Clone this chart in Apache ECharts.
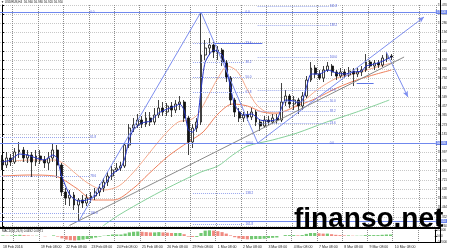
<!DOCTYPE html>
<html><head><meta charset="utf-8">
<script src="https://cdn.jsdelivr.net/npm/echarts@6/dist/echarts.min.js"></script>
<style>html,body{margin:0;padding:0;background:#fff}#c{width:450px;height:250px}</style>
</head><body><div id="c"></div>
<script>
// ---------- data ----------
const symbolTitle = '\u25BC USDRUB,H4  56.960 56.980 56.920 56.950';
const macdTitle = 'MACD(12,26,9) 0.0492 0.0371';
const watermark = 'finanso.net';
const slotCount = 103;
const timeLabels = ['18 Feb 2016','19 Feb 08:00','22 Feb 08:00','23 Feb 08:00','24 Feb 08:00','25 Feb 08:00','26 Feb 08:00','29 Feb 08:00','1 Mar 08:00','2 Mar 08:00','3 Mar 08:00','4 Mar 08:00','7 Mar 08:00','8 Mar 08:00','9 Mar 08:00','10 Mar 08:00'];

const openP = [55.92,55.87,55.94,55.90,56.00,56.02,55.94,55.97,55.90,55.96,
55.92,55.89,55.94,56.02,55.87,55.60,55.54,55.57,55.47,55.52,
55.49,55.54,55.56,55.60,55.64,55.70,55.76,55.82,55.84,55.86,
56.07,56.24,56.27,56.32,56.28,56.34,56.30,56.37,56.44,56.40,
56.46,56.42,56.48,56.50,56.34,56.10,56.24,56.30,56.97,57.04,
57.07,57.00,57.02,56.90,56.74,56.52,56.40,56.34,56.37,56.35,
56.40,56.30,56.26,56.32,56.30,56.34,56.32,56.50,56.56,56.48,
56.52,56.46,56.56,56.72,56.84,56.78,56.74,56.82,56.86,56.80,
56.76,56.80,56.77,56.81,56.78,56.80,56.82,56.90,56.86,56.89,
56.87,56.94,56.96];
const closeP = [55.87,55.94,55.90,56.00,56.02,55.94,55.97,55.90,55.96,55.92,
55.89,55.94,56.02,55.87,55.60,55.54,55.57,55.47,55.52,55.49,
55.54,55.56,55.60,55.64,55.70,55.76,55.82,55.84,55.86,56.07,
56.24,56.27,56.32,56.28,56.34,56.30,56.37,56.44,56.40,56.46,
56.42,56.48,56.50,56.34,56.10,56.24,56.30,56.97,57.04,57.07,
57.00,57.02,56.90,56.74,56.52,56.40,56.34,56.37,56.35,56.40,
56.30,56.26,56.32,56.30,56.34,56.32,56.50,56.56,56.48,56.52,
56.46,56.56,56.72,56.84,56.78,56.74,56.82,56.86,56.80,56.76,
56.80,56.77,56.81,56.78,56.80,56.82,56.90,56.86,56.89,56.87,
56.94,56.96,56.95];
const highP = [55.97,56.00,55.98,56.04,56.10,56.05,56.02,56.00,56.02,56.02,
55.96,56.00,56.09,56.07,55.89,55.64,55.62,55.60,55.54,55.57,
55.58,55.60,55.64,55.68,55.74,55.80,55.86,55.89,55.90,56.09,
56.28,56.34,56.38,56.36,56.40,56.40,56.44,56.52,56.50,56.49,
56.50,56.52,56.56,56.52,56.36,56.28,56.34,57.40,57.12,57.14,
57.10,57.06,57.04,56.92,56.76,56.54,56.44,56.40,56.41,56.44,
56.42,56.32,56.36,56.36,56.38,56.38,56.69,56.62,56.58,56.56,
56.54,56.60,56.76,56.90,56.87,56.82,56.86,56.90,56.88,56.82,
56.84,56.83,56.85,56.84,56.84,56.86,56.98,56.92,56.92,56.92,
56.97,57.00,56.98];
const lowP = [55.82,55.84,55.86,55.88,55.94,55.90,55.89,55.75,55.86,55.88,
55.84,55.82,55.90,55.74,55.56,55.47,55.46,55.42,55.30,55.44,
55.46,55.49,55.52,55.56,55.60,55.66,55.72,55.80,55.81,55.84,
56.04,56.20,56.24,56.24,56.25,56.26,56.27,56.34,56.36,56.36,
56.35,56.39,56.42,56.30,55.97,56.04,56.20,56.27,56.92,56.97,
56.94,56.92,56.86,56.70,56.47,56.35,56.30,56.30,56.31,56.32,
56.26,56.21,56.24,56.27,56.28,56.28,56.30,56.46,56.44,56.42,
56.38,56.42,56.54,56.70,56.74,56.72,56.70,56.80,56.76,56.72,
56.74,56.74,56.75,56.66,56.75,56.76,56.80,56.84,56.82,56.84,
56.85,56.90,56.92];

const macdHist = [0.02,0.01,0.02,0.03,0.04,0.03,0.02,0.01,0.01,0.00,-0.01,0.00,0.02,
-0.02,-0.08,-0.12,-0.14,-0.15,-0.14,-0.12,-0.10,
-0.08,-0.05,-0.02,0.01,0.03,0.05,0.05,0.05,
0.08,0.12,0.14,0.15,0.14,0.13,0.12,0.12,
0.13,0.12,0.11,0.10,0.10,0.10,0.06,
-0.02,-0.03,-0.03,
0.10,0.18,0.19,0.18,0.16,0.13,0.08,
0.02,-0.04,-0.08,-0.10,-0.11,-0.11,-0.10,
-0.10,-0.09,-0.07,-0.06,-0.05,
0.00,0.03,0.03,0.03,0.02,0.03,
0.07,0.10,0.10,0.09,0.08,0.08,0.06,0.04,
0.03,0.02,0.02,0.01,0.01,0.01,0.03,0.03,0.03,0.03,0.04,0.05,0.05];

// moving averages: [bar index, price]
const fastMA = [[0,55.90],[2,55.92],[4,55.98],[6,55.97],[8,55.94],[10,55.92],[12,55.97],[13,55.94],[14,55.77],[16,55.57],[18,55.51],[20,55.52],[22,55.56],[24,55.66],[26,55.78],[28,55.84],[29,55.94],[30,56.12],[31,56.22],[33,56.29],[35,56.31],[37,56.39],[39,56.43],[41,56.46],[42,56.48],[43,56.42],[44,56.22],[45,56.20],[46,56.26],[47,56.62],[48,56.90],[50,57.02],[52,56.97],[53,56.84],[54,56.64],[55,56.47],[57,56.37],[59,56.38],[61,56.32],[63,56.31],[65,56.33],[66,56.44],[67,56.52],[69,56.51],[70,56.49],[71,56.52],[72,56.66],[73,56.78],[75,56.78],[77,56.82],[79,56.79],[81,56.78],[83,56.80],[85,56.81],[86,56.86],[88,56.88],[90,56.91],[92,56.95]];
const midMA = [[0,55.90],[6.5,55.92],[12.4,55.92],[14.7,55.88],[17.5,55.78],[20.6,55.68],[24.1,55.62],[27.6,55.66],[31.1,55.80],[34.6,55.98],[38.1,56.16],[41.6,56.30],[44.4,56.32],[46.3,56.38],[48.7,56.56],[51.0,56.74],[53.3,56.86],[55.7,56.80],[58.0,56.62],[60.4,56.46],[63.9,56.38],[67.4,56.42],[70.9,56.50],[74.4,56.62],[79.1,56.74],[83.8,56.79],[88.5,56.85],[92,56.89]];
const slowMA = [[0,55.76],[6.5,55.77],[12.4,55.76],[17.5,55.64],[21.7,55.52],[26.4,55.52],[31.1,55.64],[34.6,55.78],[39.3,55.96],[44.0,56.10],[47.5,56.20],[51.0,56.38],[54.5,56.48],[58.0,56.46],[61.5,56.40],[65.0,56.39],[69.7,56.46],[74.4,56.54],[79.1,56.64],[83.8,56.72],[88.5,56.78],[92,56.82]];
const longMA = [[23.8,55.26],[27.6,55.37],[34.6,55.54],[40.5,55.67],[47.0,55.80],[51.0,55.86],[54.5,55.97],[58.0,56.06],[63.9,56.12],[69.7,56.19],[76.7,56.30],[83.8,56.40],[91.5,56.52]];

// drawings: [bar index, price]
const hLevels = [57.40, 56.09, 55.31];
const grayTrend = [[15.9,55.265],[95.0,56.95]];
const waveLines = [[[18,55.30],[47,57.40]], [[47,57.40],[60.4,56.09]]];
const arrowLines = [[[60.4,56.09],[99.7,57.35]], [[90.8,57.00],[95.9,56.55]]];
const segLines = [[[50.3,57.09],[61.5,57.09]], [[83.8,56.69],[87.8,56.69]]];
const fibLabels = ['0.0','23.6','38.2','50.0','61.8','100.0','138.2','161.8'];
const fibARange = [45.1, 57.3];
const fibALevels = [57.40,57.09,56.90,56.75,56.60,56.09,55.59,55.28];
const fibBRange = [60.4, 77.2];
const fibBLevels = [56.09,56.29,56.41,56.51,56.62,56.95,57.27,57.46];
const fibCRange = [-0.5, 20.6];
const fibCLevels = [57.40,56.15,55.76,55.39];
const fibCLabels = ['0.0','61.8','78.6','100.0'];

// ---------- chart ----------
const chart = echarts.init(document.getElementById('c'), null, {renderer:'canvas'});
const cats = Array.from({length: slotCount}, (_, i) => String(i));
const gridLineAt = (i) => i >= 3 && (i - 3) % 6 === 0 && i < 100;
const labelAt = (i) => i === 0 || (i >= 9 && (i - 3) % 6 === 0 && i < 100);
const labelText = (i) => i === 0 ? timeLabels[0] : timeLabels[(i - 3) / 6];

const fibColor = '#9aa8ee', fibText = '#4a5ad8', drawBlue = '#7d8ef0';
const mlData = [];
function fibSet(range, levels, labels) {
  levels.forEach((v, k) => {
    mlData.push([{coord:[range[0], v], lineStyle:{color:fibColor, type:'dotted', width:1},
      label:{show:true, position:'end', formatter: labels[k], fontSize:3, color:fibText, distance:1}},
      {coord:[range[1], v]}]);
  });
}
fibSet(fibARange, fibALevels, fibLabels);
fibSet(fibBRange, fibBLevels, fibLabels);
fibSet(fibCRange, fibCLevels, fibCLabels);
segLines.forEach(s => mlData.push([{coord:s[0], lineStyle:{color:'#5c74e6', type:'solid', width:1}}, {coord:s[1]}]));
waveLines.forEach(s => mlData.push([{coord:s[0], lineStyle:{color:drawBlue, type:'solid', width:1}}, {coord:s[1]}]));
arrowLines.forEach(s => mlData.push([{coord:s[0], lineStyle:{color:drawBlue, type:'solid', width:1}}, {coord:s[1], symbol:'arrow', symbolSize:[4,6]}]));
mlData.push([{coord:grayTrend[0], lineStyle:{color:'#8a8a8a', type:'solid', width:1}}, {coord:grayTrend[1]}]);
hLevels.forEach(v => mlData.push({yAxis:v, lineStyle:{color:'#7088ee', type:'solid', width:1},
  label:{show:true, position:'end', formatter: v.toFixed(3), backgroundColor:'#6c84ea', color:'#fff', fontSize:3, padding:[0.5,1], distance:0}}));
const lastClose = closeP[closeP.length - 1];
mlData.push({yAxis:lastClose, lineStyle:{opacity:0},
  label:{show:true, position:'end', formatter: lastClose.toFixed(3), backgroundColor:'#000', color:'#fff', fontSize:3, padding:[0.5,1], distance:0}});

const macdColors = macdHist.map((v, i) => (i > 0 && v < macdHist[i - 1]) ? '#f08a80' : '#72c872');

const option = {
  animation: false,
  backgroundColor: '#fff',
  grid: [
    {left:0, right:10, top:5, height:221},
    {left:0, right:10, top:230, height:12}
  ],
  xAxis: [
    {type:'category', gridIndex:0, data:cats, boundaryGap:true,
     axisLine:{show:false}, axisTick:{show:false}, axisLabel:{show:false},
     splitLine:{show:true, interval:(i)=>gridLineAt(i), lineStyle:{type:'dotted', color:'#8c8c8c', width:1}}},
    {type:'value', gridIndex:0, min:-0.5, max:slotCount-0.5, show:false},
    {type:'category', gridIndex:1, data:cats, boundaryGap:true,
     axisLine:{show:false}, axisTick:{show:false},
     axisLabel:{show:true, interval:(i)=>labelAt(i), formatter:(v, i)=>labelText(i), fontSize:3.5, color:'#222', align:'left', margin:3},
     splitLine:{show:true, interval:(i)=>gridLineAt(i), lineStyle:{type:'dotted', color:'#8c8c8c', width:1}}}
  ],
  yAxis: [
    {type:'value', gridIndex:0, position:'right', min:55.26, max:57.4704, interval:0.0921, scale:true,
     axisLine:{show:true, lineStyle:{color:'#000', width:1}}, axisTick:{show:true, length:2, lineStyle:{color:'#000'}},
     axisLabel:{fontSize:3, color:'#222', margin:2, formatter:(v)=>v.toFixed(3)},
     splitLine:{show:true, lineStyle:{type:'dotted', color:'#c8c8c8', width:1}}},
    {type:'value', gridIndex:1, position:'right', min:-0.2, max:0.2, interval:0.2,
     axisLine:{show:true, lineStyle:{color:'#000', width:1}}, axisTick:{show:true, length:2},
     axisLabel:{fontSize:3, color:'#222', margin:2, formatter:(v)=>v===0?'0.00':v.toFixed(4)},
     splitLine:{show:false}}
  ],
  series: [
    {type:'line', xAxisIndex:1, yAxisIndex:0, data:longMA, showSymbol:false, smooth:0.3,
     lineStyle:{color:'#86d09a', width:1}, z:2},
    {type:'line', xAxisIndex:1, yAxisIndex:0, data:slowMA, showSymbol:false, smooth:0.3,
     lineStyle:{color:'#ee7f5c', width:1}, z:2},
    {type:'line', xAxisIndex:1, yAxisIndex:0, data:midMA, showSymbol:false, smooth:0.3,
     lineStyle:{color:'#f6ab8e', width:1}, z:2},
    {type:'candlestick', xAxisIndex:0, yAxisIndex:0,
     data: openP.map((o, i) => [o, closeP[i], lowP[i], highP[i]]),
     barWidth:2.4,
     itemStyle:{color:'#ffffff', color0:'#111', borderColor:'#111', borderColor0:'#111', borderWidth:0.8}, z:3},
    {type:'line', xAxisIndex:1, yAxisIndex:0, data:fastMA, showSymbol:false, smooth:0.2,
     lineStyle:{color:'#2434c8', width:1}, z:4,
     markLine:{silent:true, animation:false, symbol:['none','none'], label:{show:false}, data:mlData}},
    {type:'bar', xAxisIndex:2, yAxisIndex:1, barWidth:'75%',
     data: macdHist.map((v, i) => ({value:v, itemStyle:{color:macdColors[i]}}))}
  ],
  graphic: [
    {type:'line', shape:{x1:440.5, y1:0, x2:440.5, y2:243}, style:{stroke:'#000', lineWidth:1}, z:50},
    {type:'line', shape:{x1:0, y1:228, x2:440, y2:228}, style:{stroke:'#000', lineWidth:2}, z:50},
    {type:'line', shape:{x1:0, y1:242.5, x2:440, y2:242.5}, style:{stroke:'#000', lineWidth:1}, z:50},
    {type:'text', style:{text:symbolTitle, x:1, y:1, font:'3px "Liberation Sans"', fill:'#222'}, z:50},
    {type:'text', style:{text:macdTitle, x:2, y:230, font:'3px "Liberation Sans"', fill:'#222'}, z:50},
    {type:'text', style:{text:watermark, x:294, y:219, verticalAlign:'middle', font:'bold 28px "Liberation Sans"', fill:'#000'}, z:60}
  ]
};
chart.setOption(option);
</script>
</body></html>
